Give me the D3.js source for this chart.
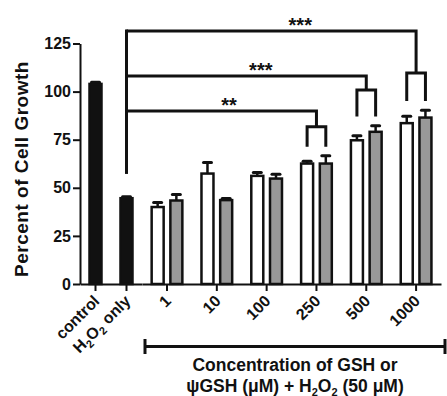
<!DOCTYPE html>
<html><head><meta charset="utf-8">
<script src="https://cdn.jsdelivr.net/npm/d3@7"></script>
<style>
body{margin:0;background:#fff;}
text{font-family:"Liberation Sans",Arial,sans-serif;font-weight:bold;fill:#111;}
</style></head>
<body><svg id="c" width="447" height="396"></svg>
<script>
// ---- data ----
const refCats = ["control", "H2O2 only"];
const refMeans = [104.0, 44.6];
const refErr = [0.8, 0.8];
const concCats = ["1", "10", "100", "250", "500", "1000"];
const series = ["GSH", "ψGSH"];
const gshMeans = [40.0, 57.4, 56.2, 62.6, 74.7, 83.6];
const gshErr = [2.3, 5.7, 1.7, 1.2, 2.3, 3.6];
const psiMeans = [43.4, 43.6, 54.8, 62.6, 79.1, 86.5];
const psiErr = [3.1, 0.8, 2.3, 4.0, 3.1, 3.8];
const yTicks = [0, 25, 50, 75, 100, 125];
// significance annotations (value units)
const sigGroups = ["250", "500", "1000"];
const sigLabels = ["**", "***", "***"];
const sigLevels = [89.9, 108.1, 131.5];
const sigCross = [81.7, 100.8, 109.7];
const sigLegEnd = [71.4, 87.0, 95.1];
const sigStemStart = 57.2;

const svg = d3.select("#c");
const INK = "#111";
const GREY = "#999";

const y = d3.scaleLinear().domain([0, 125]).range([284, 43.5]);
const xRef = d3.scaleBand().domain(refCats).range([80, 142]).paddingInner(0.53).paddingOuter(0.265);
const xConc = d3.scaleBand().domain(concCats).range([142.1, 441]);
const half = 16.6;
const xSub = d3.scaleBand().domain(series).range([xConc.bandwidth()/2 - half, xConc.bandwidth()/2 + half]).paddingInner(0.225);

// y axis
const ya = svg.append("g").attr("transform", "translate(80,0)")
  .call(d3.axisLeft(y).tickValues(yTicks).tickSize(7).tickSizeOuter(0).tickPadding(2));
ya.select(".domain").attr("stroke", INK).attr("stroke-width", 2);
ya.selectAll(".tick line").attr("stroke", INK).attr("stroke-width", 2);
ya.selectAll(".tick text").attr("font-size", 16).attr("font-family", "Liberation Sans, Arial").attr("font-weight", "bold").attr("fill", INK);

// x axes
function styleX(g) {
  g.select(".domain").attr("stroke", INK).attr("stroke-width", 2);
  g.selectAll(".tick line").attr("stroke", INK).attr("stroke-width", 2);
  g.selectAll(".tick text")
    .attr("font-size", 16).attr("font-family", "Liberation Sans, Arial").attr("font-weight", "bold").attr("fill", INK)
    .attr("text-anchor", "end").attr("x", 0).attr("y", 0).attr("dy", 0)
    .attr("transform", "translate(5,18) rotate(-45)");
}
const xa1 = svg.append("g").attr("transform", "translate(0,284)")
  .call(d3.axisBottom(xRef).tickSize(7).tickSizeOuter(0));
const xa2 = svg.append("g").attr("transform", "translate(0,284)")
  .call(d3.axisBottom(xConc).tickSize(7).tickSizeOuter(0));
styleX(xa1); styleX(xa2);
// subscripts for H2O2 label
xa1.selectAll(".tick text").filter(d => d === "H2O2 only").each(function() {
  const t = d3.select(this); t.text("");
  t.append("tspan").text("H");
  t.append("tspan").text("2").attr("font-size", 11).attr("dy", 4);
  t.append("tspan").text("O").attr("dy", -4);
  t.append("tspan").text("2").attr("font-size", 11).attr("dy", 4);
  t.append("tspan").text(" only").attr("dy", -4);
});

// bars
const bw = xSub.bandwidth();
const SW = 2.5;
function drawBar(cx, mean, err, fill) {
  svg.append("rect").attr("x", cx - bw/2 + SW/2).attr("width", bw - SW)
    .attr("y", y(mean)).attr("height", y(0) - y(mean))
    .attr("fill", fill).attr("stroke", INK).attr("stroke-width", SW);
  svg.append("line").attr("x1", cx).attr("x2", cx).attr("y1", y(mean)).attr("y2", y(mean + err))
    .attr("stroke", INK).attr("stroke-width", 2.5);
  svg.append("line").attr("x1", cx - 4).attr("x2", cx + 4).attr("y1", y(mean + err)).attr("y2", y(mean + err))
    .attr("stroke", INK).attr("stroke-width", 3).attr("stroke-linecap", "round");
}
refCats.forEach((c, i) => drawBar(xRef(c) + xRef.bandwidth()/2, refMeans[i], refErr[i], INK));
concCats.forEach((c, i) => {
  drawBar(xConc(c) + xSub("GSH") + bw/2, gshMeans[i], gshErr[i], "#fff");
  drawBar(xConc(c) + xSub("ψGSH") + bw/2, psiMeans[i], psiErr[i], GREY);
});

// significance brackets
const x0 = xRef("H2O2 only") + xRef.bandwidth()/2;
const starFrac = [0.54, 0.56, 0.60];
const br = svg.append("g").attr("fill", "none").attr("stroke", INK).attr("stroke-width", 3).attr("stroke-linejoin", "miter");
br.append("line").attr("x1", x0).attr("x2", x0).attr("y1", y(sigStemStart)).attr("y2", y(d3.max(sigLevels)) - 1.5);
sigGroups.forEach((g, i) => {
  const gc = xConc(g) + xConc.bandwidth()/2;
  const a = xConc(g) + xSub("GSH") + bw/2, b = xConc(g) + xSub("ψGSH") + bw/2;
  br.append("path").attr("d", `M${x0},${y(sigLevels[i])}H${gc}V${y(sigCross[i])}`);
  br.append("path").attr("d", `M${a},${y(sigLegEnd[i])}V${y(sigCross[i])}H${b}V${y(sigLegEnd[i])}`);
  svg.append("text").attr("x", x0 + starFrac[i] * (gc - x0)).attr("y", y(sigLevels[i]) + 1)
    .attr("text-anchor", "middle").attr("font-size", 20).text(sigLabels[i]);
});

// concentration range bar
const rx1 = 145, rx2 = 445, ry = 346.5;
svg.append("line").attr("x1", rx1).attr("x2", rx2).attr("y1", ry).attr("y2", ry).attr("stroke", INK).attr("stroke-width", 3);
[rx1, rx2].forEach(xx => svg.append("line").attr("x1", xx).attr("x2", xx).attr("y1", ry - 7.5).attr("y2", ry + 7.5).attr("stroke", INK).attr("stroke-width", 3));
const cx = (rx1 + rx2) / 2;
svg.append("text").attr("x", cx).attr("y", 370.5).attr("text-anchor", "middle").attr("font-size", 17.5).text("Concentration of GSH or");
const t2 = svg.append("text").attr("x", cx).attr("y", 391.5).attr("text-anchor", "middle").attr("font-size", 17.5);
t2.append("tspan").text("ψGSH (μM) + H");
t2.append("tspan").text("2").attr("font-size", 11).attr("dy", 4);
t2.append("tspan").text("O").attr("dy", -4);
t2.append("tspan").text("2").attr("font-size", 11).attr("dy", 4);
t2.append("tspan").text(" (50 μM)").attr("dy", -4);

// y label
svg.append("text").attr("transform", "translate(28,169) rotate(-90)").attr("text-anchor", "middle")
  .attr("font-size", 19).attr("letter-spacing", 0.5).text("Percent of Cell Growth");
</script></body></html>
